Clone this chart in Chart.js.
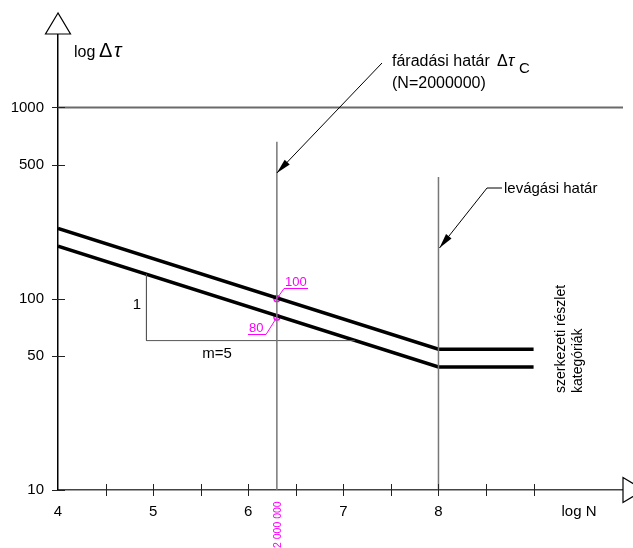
<!DOCTYPE html>
<html>
<head>
<meta charset="utf-8">
<script src="https://cdn.jsdelivr.net/npm/chart.js@4.4.1/dist/chart.umd.min.js"></script>
<style>
  body { margin: 0; background: #fff; }
  #wrap { width: 633px; height: 548px; }
</style>
</head>
<body>
<div id="wrap"><canvas id="myChart" width="633" height="548"></canvas></div>
<script>
const ctx = document.getElementById("myChart").getContext("2d");

// values (x = log N, y = stress range)
const upper_x = [4, 8, 9];
const upper_y = [233, 54.5, 54.5];
const lower_x = [4, 8, 9];
const lower_y = [188, 44, 44];

const fatigue_n = 6.301; // log(2 000 000)
const fatigue_vals = [100, 80];
const fatigue_top = 661;
const cutoff_n = 8;
const cutoff_top = 433;
const line_1000 = 1000;

const slope_x = [4.93, 4.93, 7.12];
const slope_y = [134.6, 60.4, 60.4];

const x_ticks = [4, 4.5, 5, 5.5, 6, 6.5, 7, 7.5, 8, 8.5, 9];
const x_labels = [4, 5, 6, 7, 8];
const y_ticks = [10, 50, 100, 500, 1000];

const X_MAX = 9.94;
const Y_MAX = 2421;

const FONT = '"Liberation Sans", Arial, sans-serif';
const MAGENTA = "#ff00ff";

function pts(xs, ys) {
  return xs.map((x, i) => ({ x: x, y: ys[i] }));
}

let dataset_list = [];

dataset_list.push({
  label: "1000",
  data: [{ x: 4, y: line_1000 }, { x: X_MAX, y: line_1000 }],
  borderColor: "#6a6a6a",
  borderWidth: 2,
  pointRadius: 0,
  showLine: true,
});

dataset_list.push({
  label: "fatigue",
  data: [{ x: fatigue_n, y: 10 }, { x: fatigue_n, y: fatigue_top }],
  borderColor: "#777",
  borderWidth: 1.5,
  pointRadius: 0,
  showLine: true,
});

dataset_list.push({
  label: "cutoff",
  data: [{ x: cutoff_n, y: 10 }, { x: cutoff_n, y: cutoff_top }],
  borderColor: "#777",
  borderWidth: 1.5,
  pointRadius: 0,
  showLine: true,
});

dataset_list.push({
  label: "slope",
  data: pts(slope_x, slope_y),
  borderColor: "#555",
  borderWidth: 1,
  pointRadius: 0,
  showLine: true,
});

dataset_list.push({
  label: "upper",
  data: pts(upper_x, upper_y),
  borderColor: "#000",
  borderWidth: 3.5,
  pointRadius: 0,
  showLine: true,
  tension: 0,
});

dataset_list.push({
  label: "lower",
  data: pts(lower_x, lower_y),
  borderColor: "#000",
  borderWidth: 3.5,
  pointRadius: 0,
  showLine: true,
  tension: 0,
});

dataset_list.push({
  label: "marks",
  data: fatigue_vals.map((v) => ({ x: fatigue_n, y: v })),
  borderColor: MAGENTA,
  backgroundColor: "rgba(255,0,255,0.3)",
  borderWidth: 1.2,
  pointRadius: 3,
  showLine: false,
});

function arrowHead(c, x0, y0, x1, y1) {
  const a = Math.atan2(y1 - y0, x1 - x0);
  const len = 15, hw = 3.5;
  c.beginPath();
  c.moveTo(x1, y1);
  c.lineTo(x1 - len * Math.cos(a) + hw * Math.sin(a), y1 - len * Math.sin(a) - hw * Math.cos(a));
  c.lineTo(x1 - len * Math.cos(a) - hw * Math.sin(a), y1 - len * Math.sin(a) + hw * Math.cos(a));
  c.closePath();
  c.fill();
}

const extras = {
  id: "extras",
  afterDraw(chart) {
    const c = chart.ctx;
    const xs = chart.scales.x, ys = chart.scales.y;
    const area = chart.chartArea;
    const ax = area.left, ay = area.bottom;
    c.save();

    // tick marks crossing the axes
    c.strokeStyle = "#222";
    c.lineWidth = 1;
    x_ticks.slice(1).forEach((v) => {
      const px = Math.round(xs.getPixelForValue(v)) + 0.5;
      c.beginPath();
      c.moveTo(px, ay - 6);
      c.lineTo(px, ay + 6);
      c.stroke();
    });
    y_ticks.forEach((v) => {
      const py = Math.round(ys.getPixelForValue(v)) + 0.5;
      c.beginPath();
      c.moveTo(ax - 6, py);
      c.lineTo(ax + 7, py);
      c.stroke();
    });

    // axis arrows
    c.fillStyle = "#fff";
    c.strokeStyle = "#000";
    c.lineWidth = 1.2;
    c.beginPath();
    c.moveTo(ax, 13);
    c.lineTo(ax - 12.5, area.top);
    c.lineTo(ax + 12.5, area.top);
    c.closePath();
    c.fill();
    c.stroke();
    c.beginPath();
    c.moveTo(area.right, ay - 12.5);
    c.lineTo(area.right + 21, ay);
    c.lineTo(area.right, ay + 12.5);
    c.closePath();
    c.fill();
    c.stroke();

    // axis titles
    c.fillStyle = "#000";
    c.textBaseline = "alphabetic";
    c.textAlign = "left";
    c.font = "16px " + FONT;
    c.fillText("log", 74, 57);
    c.font = "20px " + FONT;
    c.fillText("Δ", 99, 57);
    c.font = "italic 20px " + FONT;
    c.fillText("τ", 114, 57);
    c.font = "15px " + FONT;
    c.textAlign = "center";
    c.textBaseline = "middle";
    c.fillText("log N", 579, 512);

    // fatigue limit callout
    const fx = xs.getPixelForValue(fatigue_n);
    c.strokeStyle = "#000";
    c.lineWidth = 1;
    c.beginPath();
    c.moveTo(382, 63);
    c.lineTo(fx, 173);
    c.stroke();
    c.fillStyle = "#000";
    arrowHead(c, 382, 63, fx, 173);
    c.textAlign = "left";
    c.textBaseline = "alphabetic";
    c.font = "16px " + FONT;
    c.fillText("fáradási határ", 392, 66);
    c.fillText("(N=2000000)", 392, 88);
    c.font = "16px " + FONT;
    c.fillText("Δ", 497, 66);
    c.font = "italic 17px " + FONT;
    c.fillText("τ", 508, 66);
    c.font = "15px " + FONT;
    c.fillText("C", 519, 73);

    // cut-off limit callout
    const cx = xs.getPixelForValue(cutoff_n);
    c.beginPath();
    c.moveTo(502, 188);
    c.lineTo(487, 188);
    c.lineTo(cx + 1, 248);
    c.stroke();
    arrowHead(c, 487, 188, cx + 1, 248);
    c.font = "15px " + FONT;
    c.fillText("levágási határ", 504, 193);

    // slope triangle labels
    c.textAlign = "center";
    c.textBaseline = "middle";
    c.fillText("1", 137, 305);
    c.fillText("m=5", 217, 354);

    // magenta value tags
    const p100 = ys.getPixelForValue(fatigue_vals[0]);
    const p80 = ys.getPixelForValue(fatigue_vals[1]);
    c.strokeStyle = MAGENTA;
    c.fillStyle = MAGENTA;
    c.lineWidth = 1;
    c.beginPath();
    c.moveTo(fx, p100);
    c.lineTo(284, 288.5);
    c.lineTo(308, 288.5);
    c.stroke();
    c.beginPath();
    c.moveTo(fx, p80);
    c.lineTo(266, 334.5);
    c.lineTo(248, 334.5);
    c.stroke();
    c.font = "13px " + FONT;
    c.textAlign = "left";
    c.textBaseline = "alphabetic";
    c.fillText("100", 285, 286);
    c.fillText("80", 249, 332);

    // N = 2 000 000 label
    c.save();
    c.translate(fx + 4, 548);
    c.rotate(-Math.PI / 2);
    c.font = "10.5px " + FONT;
    c.textAlign = "left";
    c.fillText("2 000 000", 0, 0);
    c.restore();

    // categories label
    c.save();
    c.fillStyle = "#000";
    c.font = "14px " + FONT;
    c.translate(0, 393);
    c.rotate(-Math.PI / 2);
    c.textAlign = "left";
    c.textBaseline = "middle";
    c.fillText("szerkezeti részlet", 0, 561);
    c.fillText("kategóriák", 0, 578);
    c.restore();

    c.restore();
  },
};

var myChart = new Chart(ctx, {
  type: "scatter",
  data: {
    datasets: dataset_list,
  },
  options: {
    responsive: false,
    animation: false,
    layout: { padding: { top: 34, right: 10, left: 0, bottom: 0 } },
    plugins: {
      legend: { display: false },
      tooltip: { enabled: false },
    },
    scales: {
      x: {
        type: "linear",
        min: 4,
        max: X_MAX,
        afterFit: (scale) => { scale.height = 58; },
        afterBuildTicks: (scale) => { scale.ticks = x_ticks.map((v) => ({ value: v })); },
        grid: { display: true, drawOnChartArea: false, drawTicks: false },
        border: { display: true, color: "#444", width: 1.5 },
        ticks: {
          autoSkip: false,
          maxRotation: 0,
          padding: 13,
          color: "#000",
          font: { family: FONT, size: 15 },
          callback: (v) => (x_labels.includes(v) ? String(v) : ""),
        },
      },
      y: {
        type: "logarithmic",
        min: 10,
        max: Y_MAX,
        afterFit: (scale) => { scale.width = 58; },
        afterBuildTicks: (scale) => { scale.ticks = y_ticks.map((v) => ({ value: v })); },
        grid: { display: true, drawOnChartArea: false, drawTicks: false },
        border: { display: true, color: "#000", width: 1.5 },
        ticks: {
          autoSkip: false,
          padding: 14,
          color: "#000",
          font: { family: FONT, size: 15 },
          callback: (v) => String(v),
        },
      },
    },
  },
  plugins: [extras],
});
</script>
</body>
</html>
